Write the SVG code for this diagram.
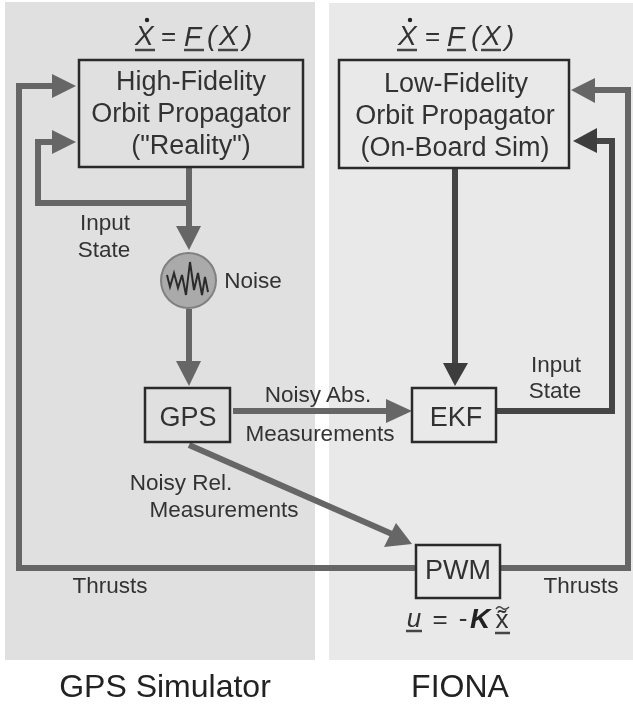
<svg xmlns="http://www.w3.org/2000/svg" width="633" height="706" viewBox="0 0 633 706">
<style>
text{font-family:"Liberation Sans",Arial,sans-serif;fill:#333;text-anchor:middle}
.big{font-size:27px}
.sm{font-size:22.5px}
.cap{font-size:32px;fill:#222}
.eq{font-size:28px;font-style:italic;text-anchor:start}
.law{font-size:26px}
.box{fill:none;stroke:#2b2b2b;stroke-width:2.5}
.g{fill:none;stroke:#666;stroke-width:6}
.d{fill:none;stroke:#444;stroke-width:6}
.u{stroke:#444;stroke-width:2.5;fill:none}
</style>
<defs><filter id="soft" x="-2%" y="-2%" width="104%" height="104%"><feGaussianBlur stdDeviation="0.6"/></filter></defs>
<rect width="633" height="706" fill="#fff"/>
<g filter="url(#soft)">
<g id="panels">
<rect x="5" y="2" width="310" height="658" fill="#e0e0e0"/>
<rect x="329" y="3" width="304" height="657" fill="#e9e9e9"/>
</g>
<g id="connectors">
<path class="g" d="M416 568H19V86H56"/>
<path class="g" d="M189 168V203H38V142H56"/>
<path class="g" d="M189 203V230"/>
<polygon points="176,226 201,226 189,250" fill="#666"/>
<path class="g" d="M189 309V365"/>
<polygon points="176,361 201,361 189,386" fill="#666"/>
<polygon points="76,86 52,74 52,98" fill="#666"/>
<polygon points="76,142 52,130 52,154" fill="#666"/>
<path class="g" d="M233 411H390"/>
<polygon points="412,411 386,399 386,423" fill="#666"/>
<path class="g" d="M189 445L392 534"/>
<polygon points="412,544 384,547 396,523" fill="#666"/>
<path class="d" d="M455 168V367"/>
<polygon points="443,363 468,363 455,386" fill="#3c3c3c"/>
<path class="d" d="M496 411H612V141H592"/>
<polygon points="573,141 597,128 597,153" fill="#3c3c3c"/>
<path class="g" d="M500 568H628V90H590"/>
<polygon points="571,90 595,78 595,103" fill="#666"/>
</g>
<g id="high-fidelity">
<rect class="box" x="79" y="60" width="224" height="107"/>
<text class="big" x="191" y="90">High-Fidelity</text>
<text class="big" x="191" y="122">Orbit Propagator</text>
<text class="big" x="191" y="154">("Reality")</text>
</g>
<g id="low-fidelity">
<rect class="box" x="339" y="60" width="230" height="108"/>
<text class="big" x="456" y="92">Low-Fidelity</text>
<text class="big" x="455" y="124">Orbit Propagator</text>
<text class="big" x="455" y="156">(On-Board Sim)</text>
</g>
<g id="eq-left">
<text class="eq" x="135" y="45">X</text><text class="eq" x="161" y="45" style="font-style:normal;font-size:26px">=</text><text class="eq" x="184" y="46">F</text><text class="eq" x="207" y="45">(</text><text class="eq" x="219" y="45">X</text><text class="eq" x="243" y="45">)</text>
<circle cx="147" cy="20" r="2.2" fill="#222"/>
<path class="u" d="M135 50H155M184 50H204M218 50H238"/>
</g>
<g id="eq-right">
<text class="eq" x="398" y="45">X</text><text class="eq" x="425" y="45" style="font-style:normal;font-size:26px">=</text><text class="eq" x="447" y="46">F</text><text class="eq" x="471" y="45">(</text><text class="eq" x="482" y="45">X</text><text class="eq" x="505" y="45">)</text>
<circle cx="410" cy="20" r="2.2" fill="#222"/>
<path class="u" d="M397 50H417M447 50H466M481 50H501"/>
</g>
<g id="noise">
<circle cx="188.500" cy="280.500" r="27.500" fill="#aaa" stroke="#808080" stroke-width="2"/>
<path d="M167 275L170 287L174 273L178 288L182 275L186 295L190 262L194 290L198 273L202 295L205 277L208 292" fill="none" stroke="#2b2b2b" stroke-width="2"/>
<text class="sm" x="253" y="288">Noise</text>
</g>
<g id="gps">
<rect class="box" x="145" y="388" width="85" height="54"/>
<text class="big" x="188" y="426">GPS</text>
</g>
<g id="ekf">
<rect class="box" x="412" y="388" width="84" height="54"/>
<text class="big" x="456" y="426">EKF</text>
</g>
<g id="pwm">
<rect class="box" x="416" y="545" width="84" height="53"/>
<text class="big" x="458" y="579">PWM</text>
</g>
<g id="labels">
<text class="sm" x="105" y="230">Input</text>
<text class="sm" x="104" y="257">State</text>
<text class="sm" x="318" y="402">Noisy Abs.</text>
<text class="sm" x="320" y="441">Measurements</text>
<text class="sm" x="181" y="490">Noisy Rel.</text>
<text class="sm" x="224" y="517">Measurements</text>
<text class="sm" x="556" y="372">Input</text>
<text class="sm" x="555" y="398">State</text>
<text class="sm" x="110" y="593">Thrusts</text>
<text class="sm" x="581" y="593">Thrusts</text>
</g>
<g id="control-law">
<text class="law" x="414" y="627" style="font-style:italic">u</text>
<text class="law" x="440" y="628">=</text>
<text class="law" x="463" y="627">-</text>
<text x="480" y="628" style="font-size:28px;font-style:italic;font-weight:bold;fill:#222">K</text>
<text x="502" y="628" style="font-size:26px">x&#771;</text>
<path d="M496 609Q499 605 502 608T509 607" fill="none" stroke="#444" stroke-width="1.500"/>
<path class="u" d="M406 631H422M495 633H510"/>
</g>
<g id="captions">
<text class="cap" x="165" y="697">GPS Simulator</text>
<text class="cap" x="460" y="697">FIONA</text>
</g>
</g>
</svg>
